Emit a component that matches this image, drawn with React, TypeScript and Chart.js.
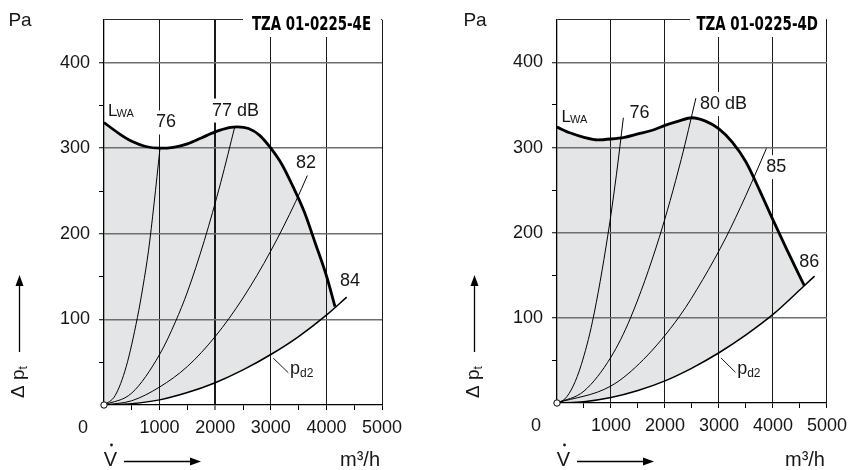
import React, { useEffect, useRef } from "react";
import { Chart, registerables } from "chart.js";

Chart.register(...registerables);

const FONT = '"Liberation Sans", Arial, Helvetica, sans-serif';
const TITLE_FONT = '"Liberation Sans Narrow", "Arial Narrow", "DejaVu Sans Condensed", "Liberation Sans", sans-serif';
const FILL = "#e4e5e7";
const INK = "#161616";

// ---------- axes ----------
const X_TICK_VALUES = [0, 500, 1000, 1500, 2000, 2500, 3000, 3500, 4000, 4500, 5000];
const Y_TICK_VALUES = [0, 50, 100, 150, 200, 250, 300, 350, 400, 450];
const X_LABELLED = [1000, 2000, 3000, 4000, 5000];
const Y_LABELLED = [100, 200, 300, 400];

// ---------- left panel: TZA 01-0225-4E ----------
const L_TITLE = "TZA 01-0225-4E";
const L_LWA_V = [0, 250, 500, 750, 1000, 1250, 1500, 1750, 2000, 2250, 2400, 2600, 2800, 3000, 3200, 3400, 3600, 3800, 4000, 4155];
const L_LWA_P = [330, 318, 308, 302, 300, 301, 305, 312, 319, 324, 325, 323, 315, 300, 281, 255, 226, 189, 151, 115];
const L_PD2_V = [0, 500, 1000, 1500, 2000, 2500, 3000, 3500, 4000, 4365];
const L_PD2_P = [0, 1.6, 6, 14.5, 26, 41, 59, 80, 105, 126];
const L_76_V = [0, 200, 400, 600, 700, 800, 900, 1007];
const L_76_P = [0, 11, 45, 102, 138, 180, 235, 300];
const L_77_V = [0, 500, 1000, 1290, 1500, 1804, 2100, 2356];
const L_77_P = [0, 14, 59, 98, 132, 192, 260, 326];
const L_82_V = [0, 500, 1000, 1500, 2000, 2500, 3000, 3450, 3657];
const L_82_P = [0, 5, 21, 45, 80, 125, 180, 238, 268];
const L_LEVEL_TEXT = ["76", "77 dB", "82", "84"];

// ---------- right panel: TZA 01-0225-4D ----------
const R_TITLE = "TZA 01-0225-4D";
const R_LWA_V = [0, 250, 500, 750, 1000, 1250, 1500, 1750, 2000, 2250, 2500, 2750, 3000, 3250, 3500, 3750, 4000, 4250, 4578];
const R_LWA_P = [324, 317, 312, 309, 310, 312, 316, 320, 326, 331, 335, 331, 322, 306, 283, 250, 215, 181, 138];
const R_PD2_V = [0, 500, 1000, 1500, 2000, 2500, 3000, 3500, 4000, 4500, 4770];
const R_PD2_P = [0, 1.6, 6.5, 14.7, 26, 41, 59, 80, 104, 133, 149];
const R_76_V = [0, 150, 300, 450, 658, 939, 1100, 1229];
const R_76_P = [0, 5, 20, 45, 96, 196, 268, 335];
const R_80_V = [0, 500, 1000, 1362, 1892, 2300, 2572];
const R_80_P = [0, 14, 54, 100, 194, 286, 358];
const R_85_V = [0, 1000, 1600, 2271, 2700, 3126, 3500, 3879];
const R_85_P = [0, 20, 51, 102, 145, 194, 244, 299];
const R_LEVEL_TEXT = ["76", "80 dB", "85", "86"];

// ---------- layout (positions in data units / pixels, not data) ----------
type Label = { text: string; v: number; p: number; bg?: boolean };
type Spec = {
  title: string;
  lwa: [number[], number[]];
  pd2: [number[], number[]];
  levels: [number[], number[]][];
  labels: Label[];
  lwaAt: [number, number];
  pdAt: [number, number];
  leader: [number, number, number, number];
  boldV: number | null;
  pad: { left: number; right: number; top: number; bottom: number };
  yWidth: number;
  titleBoxLeft: number;
  titleRightGap: number;
  titleWidth: number;
  sideOffset: number;
};

const LEFT: Spec = {
  title: L_TITLE,
  lwa: [L_LWA_V, L_LWA_P],
  pd2: [L_PD2_V, L_PD2_P],
  levels: [[L_76_V, L_76_P], [L_77_V, L_77_P], [L_82_V, L_82_P]],
  labels: [
    { text: L_LEVEL_TEXT[0], v: 1115, p: 330, bg: true },
    { text: L_LEVEL_TEXT[1], v: 2365, p: 344, bg: true },
    { text: L_LEVEL_TEXT[2], v: 3633, p: 283 },
    { text: L_LEVEL_TEXT[3], v: 4424, p: 145 },
  ],
  lwaAt: [72, 337.7],
  pdAt: [3345, 36],
  leader: [3045, 54.7, 3315, 37.7],
  boldV: 2000,
  pad: { left: 0, right: 45, top: 7, bottom: 35 },
  yWidth: 104,
  titleBoxLeft: 139,
  titleRightGap: 11,
  titleWidth: 119,
  sideOffset: 84,
};

const RIGHT: Spec = {
  title: R_TITLE,
  lwa: [R_LWA_V, R_LWA_P],
  pd2: [R_PD2_V, R_PD2_P],
  levels: [[R_76_V, R_76_P], [R_80_V, R_80_P], [R_85_V, R_85_P]],
  labels: [
    { text: R_LEVEL_TEXT[0], v: 1530, p: 340.5 },
    { text: R_LEVEL_TEXT[1], v: 3084, p: 351, bg: true },
    { text: R_LEVEL_TEXT[2], v: 4060, p: 277, bg: true },
    { text: R_LEVEL_TEXT[3], v: 4671, p: 166 },
  ],
  lwaAt: [85, 330],
  pdAt: [3337, 34.1],
  leader: [3035, 53, 3306, 36],
  boldV: null,
  pad: { left: 0, right: 20, top: 8, bottom: 37 },
  yWidth: 130,
  titleBoxLeft: 133,
  titleRightGap: 9,
  titleWidth: 121.6,
  sideOffset: 82,
};

function pts(c: [number[], number[]]) {
  return c[0].map((x, i) => ({ x, y: c[1][i] }));
}

function arrowHead(ctx: CanvasRenderingContext2D, tipX: number, tipY: number, dir: "up" | "right") {
  ctx.beginPath();
  if (dir === "up") {
    ctx.moveTo(tipX, tipY);
    ctx.lineTo(tipX - 4, tipY + 11);
    ctx.lineTo(tipX + 4, tipY + 11);
  } else {
    ctx.moveTo(tipX, tipY);
    ctx.lineTo(tipX - 11, tipY - 4);
    ctx.lineTo(tipX - 11, tipY + 4);
  }
  ctx.closePath();
  ctx.fill();
}

function makeDecor(spec: Spec) {
  return {
    id: "decor",
    beforeDatasetsDraw(chart: any) {
      const ctx: CanvasRenderingContext2D = chart.ctx;
      const xs = chart.scales.x;
      const ys = chart.scales.y;
      ctx.save();
      ctx.font = `18px ${FONT}`;
      ctx.fillStyle = "#ffffff";
      for (const lab of spec.labels) {
        if (!lab.bg) continue;
        const w = ctx.measureText(lab.text).width;
        const cx = xs.getPixelForValue(lab.v);
        const cy = ys.getPixelForValue(lab.p);
        ctx.fillRect(cx - w / 2 - 2, cy - 12, w + 4, 24);
      }
      ctx.restore();
    },
    afterDatasetsDraw(chart: any) {
      const ctx: CanvasRenderingContext2D = chart.ctx;
      const xs = chart.scales.x;
      const ys = chart.scales.y;
      const area = chart.chartArea;
      const X = (v: number) => xs.getPixelForValue(v);
      const Y = (p: number) => ys.getPixelForValue(p);
      ctx.save();

      // title box
      const rightPx = X(5000);
      ctx.fillStyle = "#ffffff";
      ctx.fillRect(area.left + spec.titleBoxLeft, 0, rightPx - 1 - (area.left + spec.titleBoxLeft), 37);
      ctx.fillStyle = "#000";
      ctx.font = `bold 20px ${TITLE_FONT}`;
      ctx.textBaseline = "alphabetic";
      ctx.textAlign = "left";
      const tw = ctx.measureText(spec.title).width;
      ctx.save();
      ctx.translate(rightPx - spec.titleRightGap - spec.titleWidth, 29.5);
      ctx.scale(spec.titleWidth / tw, 1);
      ctx.fillText(spec.title, 0, 0);
      ctx.restore();

      // level labels
      ctx.fillStyle = INK;
      ctx.font = `18px ${FONT}`;
      ctx.textAlign = "center";
      ctx.textBaseline = "middle";
      for (const lab of spec.labels) {
        ctx.fillText(lab.text, X(lab.v), Y(lab.p));
      }

      // L_WA
      ctx.textAlign = "left";
      ctx.textBaseline = "alphabetic";
      const lx = X(spec.lwaAt[0]);
      const ly = Y(spec.lwaAt[1]);
      ctx.font = `17px ${FONT}`;
      ctx.fillText("L", lx, ly);
      const lw = ctx.measureText("L").width;
      ctx.font = `11px ${FONT}`;
      ctx.fillText("WA", lx + lw - 1, ly + 1);

      // p_d2 + leader
      const px = X(spec.pdAt[0]);
      const py = Y(spec.pdAt[1]);
      ctx.font = `18px ${FONT}`;
      ctx.fillText("p", px, py);
      const pw = ctx.measureText("p").width;
      ctx.font = `12px ${FONT}`;
      ctx.fillText("d2", px + pw, py + 3);
      ctx.strokeStyle = INK;
      ctx.lineWidth = 1;
      ctx.beginPath();
      ctx.moveTo(X(spec.leader[0]), Y(spec.leader[1]));
      ctx.lineTo(X(spec.leader[2]), Y(spec.leader[3]));
      ctx.stroke();

      // "0" corner label
      ctx.font = `18px ${FONT}`;
      ctx.textAlign = "center";
      ctx.textBaseline = "middle";
      ctx.fillText("0", area.left - 21, area.bottom + 23.5);

      // Pa
      ctx.font = `19px ${FONT}`;
      ctx.textBaseline = "alphabetic";
      ctx.fillText("Pa", area.left - spec.sideOffset, 26);

      // Δp_t arrow and label
      const ax = area.left - spec.sideOffset - 0.5;
      ctx.strokeStyle = "#000";
      ctx.fillStyle = "#000";
      ctx.lineWidth = 1.3;
      ctx.beginPath();
      ctx.moveTo(ax, 352);
      ctx.lineTo(ax, 284);
      ctx.stroke();
      arrowHead(ctx, ax, 275, "up");
      ctx.save();
      ctx.translate(ax - 1, 382);
      ctx.rotate(-Math.PI / 2);
      ctx.fillStyle = INK;
      ctx.font = `19px ${FONT}`;
      const dp = "\u0394 p";
      const dpw = ctx.measureText(dp).width;
      ctx.font = `12px ${FONT}`;
      const tW = ctx.measureText("t").width;
      const total = dpw + tW;
      ctx.font = `19px ${FONT}`;
      ctx.textAlign = "left";
      ctx.textBaseline = "middle";
      ctx.fillText(dp, -total / 2, 0);
      ctx.font = `12px ${FONT}`;
      ctx.fillText("t", -total / 2 + dpw, 5);
      ctx.restore();

      // V-dot with arrow
      ctx.fillStyle = INK;
      ctx.font = `20px ${FONT}`;
      ctx.textAlign = "center";
      ctx.textBaseline = "alphabetic";
      const vx = area.left + 6.5;
      ctx.fillText("V", vx, 465.5);
      ctx.beginPath();
      ctx.arc(vx + 1, 445, 1.4, 0, Math.PI * 2);
      ctx.fill();
      ctx.strokeStyle = "#000";
      ctx.lineWidth = 1.3;
      ctx.beginPath();
      ctx.moveTo(area.left + 20, 461.5);
      ctx.lineTo(area.left + 88, 461.5);
      ctx.stroke();
      ctx.fillStyle = "#000";
      arrowHead(ctx, area.left + 97, 461.5, "right");

      // unit
      ctx.fillStyle = INK;
      ctx.font = `20px ${FONT}`;
      ctx.textAlign = "right";
      ctx.fillText("m\u00b3/h", rightPx - 2, 465.5);

      ctx.restore();
    },
  };
}

function buildConfig(spec: Spec): any {
  const lineDs = (data: any, width: number, extra: any = {}) => ({
    type: "line",
    data,
    borderColor: "#000",
    borderWidth: width,
    pointRadius: 0,
    cubicInterpolationMode: "monotone",
    fill: false,
    ...extra,
  });
  const datasets: any[] = [
    {
      type: "line",
      data: [{ x: 0, y: 0 }],
      showLine: false,
      pointRadius: 3.2,
      pointBackgroundColor: "#ffffff",
      pointBorderColor: "#000",
      pointBorderWidth: 1,
      clip: false,
    },
    lineDs(pts(spec.lwa), 2.8, { fill: 2, backgroundColor: FILL }),
    lineDs(pts(spec.pd2), 1.5),
    ...spec.levels.map((c) => lineDs(pts(c), 1)),
  ];

  const tickFont = { family: FONT, size: 18 };
  return {
    type: "line",
    data: { datasets },
    options: {
      animation: false,
      responsive: false,
      maintainAspectRatio: false,
      devicePixelRatio: 1,
      events: [],
      layout: { padding: spec.pad },
      plugins: {
        legend: { display: false },
        tooltip: { enabled: false },
        filler: { drawTime: "beforeDraw", propagate: false },
      },
      scales: {
        x: {
          type: "linear",
          min: 0,
          max: 5000,
          afterBuildTicks: (axis: any) => {
            axis.ticks = X_TICK_VALUES.map((value) => ({ value }));
          },
          afterFit: (axis: any) => {
            axis.height = 30;
          },
          ticks: {
            autoSkip: false,
            maxRotation: 0,
            minRotation: 0,
            padding: 7,
            color: INK,
            font: tickFont,
            callback: (v: number) => (X_LABELLED.includes(v) ? String(v) : ""),
          },
          grid: {
            drawOnChartArea: true,
            drawTicks: true,
            tickLength: 5,
            color: (c: any) => {
              const v = c.tick ? c.tick.value : -1;
              if (v > 0 && v % 1000 === 0) return "#1a1a1a";
              return "rgba(0,0,0,0)";
            },
            lineWidth: (c: any) => (c.tick && c.tick.value === spec.boldV ? 2 : 1),
            tickColor: (c: any) => (c.tick && c.tick.value === 0 ? "rgba(0,0,0,0)" : "#000"),
            tickWidth: 1,
          },
          border: { display: true, color: "#000", width: 1.3 },
        },
        y: {
          type: "linear",
          min: 0,
          max: 450,
          afterBuildTicks: (axis: any) => {
            axis.ticks = Y_TICK_VALUES.map((value) => ({ value }));
          },
          afterFit: (axis: any) => {
            axis.width = spec.yWidth;
          },
          ticks: {
            autoSkip: false,
            padding: 9,
            color: INK,
            font: tickFont,
            callback: (v: number) => (Y_LABELLED.includes(v) ? String(v) : ""),
          },
          grid: {
            drawOnChartArea: true,
            drawTicks: true,
            tickLength: 5,
            color: (c: any) => {
              const v = c.tick ? c.tick.value : -1;
              if (v === 450) return "#2a2a2a";
              if (v > 0 && v % 100 === 0) return "#6e6e6e";
              return "rgba(0,0,0,0)";
            },
            lineWidth: (c: any) => {
              const v = c.tick ? c.tick.value : -1;
              return v > 0 && v % 100 === 0 && v !== 450 ? 1.5 : 1;
            },
            tickColor: (c: any) => {
              const v = c.tick ? c.tick.value : -1;
              return v === 0 || v === 450 ? "rgba(0,0,0,0)" : "#000";
            },
            tickWidth: 1,
          },
          border: { display: true, color: "#000", width: 1.3 },
        },
      },
    },
    plugins: [makeDecor(spec)],
  };
}

function Panel({ spec, left }: { spec: Spec; left: number }) {
  const ref = useRef<HTMLCanvasElement>(null);
  useEffect(() => {
    const chart = new Chart(ref.current as HTMLCanvasElement, buildConfig(spec));
    return () => chart.destroy();
  }, [spec]);
  return (
    <canvas
      ref={ref}
      width={427}
      height={470}
      style={{ position: "absolute", left, top: 0, width: 427, height: 470 }}
    />
  );
}

export default function App() {
  return (
    <div
      style={{
        position: "absolute",
        left: 0,
        top: 0,
        width: 854,
        height: 470,
        background: "#ffffff",
        overflow: "hidden",
      }}
    >
      <Panel spec={LEFT} left={0} />
      <Panel spec={RIGHT} left={427} />
    </div>
  );
}
